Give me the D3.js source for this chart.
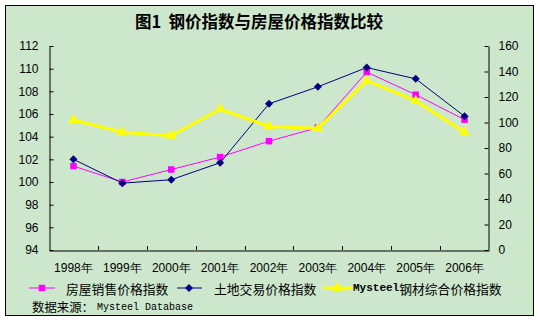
<!DOCTYPE html>
<html>
<head>
<meta charset="utf-8">
<script src="https://cdn.jsdelivr.net/npm/d3@7"></script>
<style>
  html, body { margin: 0; padding: 0; background: #ffffff; }
  svg { display: block; }
  text { white-space: pre; }
</style>
</head>
<body>
<svg id="chart" width="540" height="322"></svg>
<script>
// Categories and series
const years = ['1998年', '1999年', '2000年', '2001年', '2002年', '2003年', '2004年', '2005年', '2006年'];
const housingSales = [101.4, 100.0, 101.1, 102.2, 103.6, 104.8, 109.7, 107.7, 105.5];   // left axis
const landTrade = [102.0, 99.9, 100.2, 101.7, 106.9, 108.4, 110.1, 109.1, 105.8];       // left axis
const steelPrice = [102.0, 92.3, 89.6, 110.4, 96.9, 95.4, 132.8, 116.9, 92.3];           // right axis
const leftTicks = [94, 96, 98, 100, 102, 104, 106, 108, 110, 112];
const rightTicks = [0, 20, 40, 60, 80, 100, 120, 140, 160];

const titleText = '图1  钢价指数与房屋价格指数比较';
const seriesNames = ['房屋销售价格指数', '土地交易价格指数', 'Mysteel钢材综合价格指数'];
const sourceLabel = '数据来源：';
const sourceName = 'Mysteel Database';

const svg = d3.select('#chart');
const cjk = '"Noto Sans CJK SC", "Noto Sans", sans-serif';
const sans = '"Liberation Sans", Arial, sans-serif';
const mono = '"Liberation Mono", "DejaVu Sans Mono", monospace';

// Framed panel
svg.append('rect')
  .attr('x', 5.5).attr('y', 5.5).attr('width', 528).attr('height', 310)
  .attr('fill', '#cde7cd').attr('stroke', '#000').attr('stroke-width', 1);

// Title
svg.append('text')
  .attr('x', 259).attr('y', 21)
  .attr('text-anchor', 'middle').attr('dominant-baseline', 'central')
  .attr('font-family', cjk).attr('font-weight', 'bold').attr('font-size', 16.5)
  .attr('fill', '#000')
  .text(titleText);

const plot = { left: 49, right: 489, top: 46, bottom: 250 };

const x = d3.scaleBand().domain(years).range([plot.left, plot.right]).padding(0);
const cx = d => x(d) + x.bandwidth() / 2;
const yL = d3.scaleLinear().domain([94, 112]).range([plot.bottom, plot.top]);
const yR = d3.scaleLinear().domain([0, 160]).range([plot.bottom, plot.top]);

// Left axis
const gL = svg.append('g').attr('transform', `translate(${plot.left + 0.5},0)`)
  .call(d3.axisLeft(yL).tickValues(leftTicks).tickSizeInner(-4).tickSizeOuter(0).tickPadding(11).tickFormat(d3.format('d')));
gL.selectAll('text').attr('font-family', sans).attr('font-size', 12).attr('fill', '#000');
gL.selectAll('line, path').attr('stroke', '#000');

// Right axis
const gR = svg.append('g').attr('transform', `translate(${plot.right - 0.5},0)`)
  .call(d3.axisRight(yR).tickValues(rightTicks).tickSizeInner(-4).tickSizeOuter(0).tickPadding(10).tickFormat(d3.format('d')));
gR.selectAll('text').attr('font-family', sans).attr('font-size', 12).attr('fill', '#000');
gR.selectAll('line, path').attr('stroke', '#000');

// Bottom axis: labels at category centres, tick marks at category boundaries
const gB = svg.append('g').attr('transform', `translate(0,${plot.bottom + 0.5})`)
  .call(d3.axisBottom(x).tickSize(0).tickPadding(13));
gB.select('.domain').attr('stroke', '#000');
gB.selectAll('text').attr('font-family', sans).attr('font-size', 12).attr('fill', '#000');
svg.append('g').selectAll('line')
  .data(years.slice(1))
  .join('line')
  .attr('x1', d => Math.round(x(d)) + 0.5).attr('x2', d => Math.round(x(d)) + 0.5)
  .attr('y1', plot.bottom).attr('y2', plot.bottom - 4)
  .attr('stroke', '#000');

// Marker shapes
const squareSym = d3.symbol().type(d3.symbolSquare).size(42);
const diamondSym = () => 'M0,-4L4,0L0,4L-4,0Z';
const triSym = d3.symbol().type(d3.symbolTriangle).size(50);

function drawSeries(values, yScale, color, width, sym) {
  const g = svg.append('g');
  const line = d3.line().x((d, i) => cx(years[i])).y(d => yScale(d));
  g.append('path').datum(values)
    .attr('d', line).attr('fill', 'none')
    .attr('stroke', color).attr('stroke-width', width).attr('stroke-linejoin', 'miter');
  g.selectAll('path.m').data(values).join('path').attr('class', 'm')
    .attr('transform', (d, i) => `translate(${cx(years[i])},${yScale(d)})`)
    .attr('d', sym).attr('fill', color);
}

drawSeries(housingSales, yL, '#ff00ff', 1, squareSym);
drawSeries(landTrade, yL, '#000080', 1, diamondSym);
drawSeries(steelPrice, yR, '#ffff00', 3, triSym);

// Legend
const legY = 288;
const legend = [
  { x1: 29, x2: 55, mx: 42, tx: 66, color: '#ff00ff', w: 1, sym: squareSym },
  { x1: 177, x2: 202, mx: 189, tx: 214, color: '#000080', w: 1, sym: diamondSym },
  { x1: 323, x2: 352, mx: 337, tx: 353, color: '#ffff00', w: 3, sym: triSym }
];
const lg = svg.append('g');
legend.forEach((l, i) => {
  lg.append('line').attr('x1', l.x1).attr('x2', l.x2).attr('y1', legY).attr('y2', legY)
    .attr('stroke', l.color).attr('stroke-width', l.w);
  lg.append('path').attr('transform', `translate(${l.mx},${legY})`).attr('d', l.sym).attr('fill', l.color);
  const t = lg.append('text').attr('x', l.tx).attr('y', legY)
    .attr('dominant-baseline', 'central').attr('font-size', 12.8).attr('fill', '#000')
    .attr('font-family', cjk);
  const name = seriesNames[i];
  if (name.startsWith('Mysteel')) {
    t.append('tspan').attr('font-family', mono).attr('font-size', 11).attr('font-weight', 'bold').text('Mysteel');
    t.append('tspan').text(name.slice(7));
  } else {
    t.text(name);
  }
});

// Source line
const src = svg.append('text').attr('x', 32).attr('y', 307)
  .attr('dominant-baseline', 'central').attr('fill', '#000');
src.append('tspan').attr('font-family', cjk).attr('font-size', 12.4).text(sourceLabel);
src.append('tspan').attr('x', 97).attr('font-family', mono).attr('font-size', 10).text(sourceName);
</script>
</body>
</html>
